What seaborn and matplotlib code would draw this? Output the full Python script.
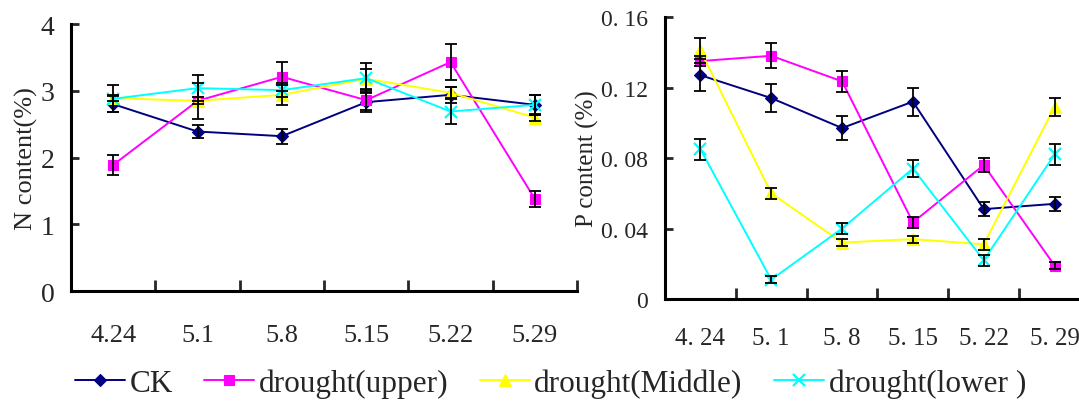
import numpy as np
import pandas as pd
import matplotlib
matplotlib.use("Agg")
import matplotlib.pyplot as plt
from matplotlib.lines import Line2D
import seaborn as sns

# sampling dates and treatments
dates = ['4.24', '5.1', '5.8', '5.15', '5.22', '5.29']
dates_p = ['4. 24', '5. 1', '5. 8', '5. 15', '5. 22', '5. 29']
groups = ['CK', 'drought(upper)', 'drought(Middle)', 'drought(lower )']

# N content (%)
n_ck = [2.80, 2.39, 2.32, 2.83, 2.94, 2.79]
n_upper = [1.89, 2.85, 3.21, 2.86, 3.43, 1.38]
n_middle = [2.89, 2.85, 2.94, 3.18, 2.97, 2.60]
n_lower = [2.88, 3.04, 3.01, 3.19, 2.69, 2.79]
n_ck_err = [0.12, 0.10, 0.11, 0.15, 0.12, 0.15]
n_upper_err = [0.15, 0.27, 0.22, 0.15, 0.27, 0.12]
n_middle_err = [0.05, 0.05, 0.15, 0.15, 0.08, 0.05]
n_lower_err = [0.20, 0.20, 0.10, 0.22, 0.18, 0.15]

# P content (%)
p_ck = [0.127, 0.114, 0.097, 0.112, 0.051, 0.054]
p_upper = [0.135, 0.138, 0.1235, 0.0435, 0.076, 0.019]
p_middle = [0.141, 0.060, 0.032, 0.034, 0.031, 0.109]
p_lower = [0.085, 0.011, 0.040, 0.074, 0.022, 0.082]
p_ck_err = [0.009, 0.008, 0.007, 0.008, 0.004, 0.004]
p_upper_err = [0.003, 0.007, 0.006, 0.003, 0.004, 0.002]
p_middle_err = [0.007, 0.003, 0.002, 0.002, 0.003, 0.005]
p_lower_err = [0.006, 0.002, 0.003, 0.005, 0.003, 0.006]

colors = {'CK': '#000080', 'drought(upper)': '#FF00FF',
          'drought(Middle)': '#FFFF00', 'drought(lower )': '#00FFFF'}
markers = {'CK': 'D', 'drought(upper)': 's',
           'drought(Middle)': '^', 'drought(lower )': 'x'}
msizes = {'CK': 6.5, 'drought(upper)': 7, 'drought(Middle)': 8.5, 'drought(lower )': 8}
mews = {'CK': 0.8, 'drought(upper)': 0.8, 'drought(Middle)': 0.8, 'drought(lower )': 1.6}

sns.set_style("ticks")
plt.rcParams['font.family'] = ['Liberation Serif', 'DejaVu Serif']


def long_table(series, errs):
    rows = []
    for g, vals, ee in zip(groups, series, errs):
        for i, (v, e) in enumerate(zip(vals, ee)):
            rows.append({'group': g, 'pos': i, 'value': v, 'err': e})
    return pd.DataFrame(rows)


df_n = long_table([n_ck, n_upper, n_middle, n_lower],
                  [n_ck_err, n_upper_err, n_middle_err, n_lower_err])
df_p = long_table([p_ck, p_upper, p_middle, p_lower],
                  [p_ck_err, p_upper_err, p_middle_err, p_lower_err])

fig = plt.figure(figsize=(10.79, 4.02), dpi=100)
ax1 = fig.add_axes([0.0658, 0.2736, 0.469, 0.664])
ax2 = fig.add_axes([0.6163, 0.2537, 0.3939, 0.7015])


def draw(ax, df):
    for g in groups:
        sub = df[df.group == g]
        sns.lineplot(data=sub, x='pos', y='value', color=colors[g], marker=markers[g],
                     markersize=msizes[g], markeredgecolor=colors[g],
                     markeredgewidth=mews[g], lw=1.4, ax=ax, zorder=2)
    for g in groups:
        sub = df[df.group == g]
        ax.errorbar(sub.pos, sub.value, yerr=sub.err, fmt='none', ecolor='black',
                    elinewidth=1.3, capsize=4, capthick=1.3, zorder=3)
    ax.set_xlim(-0.5, len(dates) - 0.5)
    ax.set_xticks(np.arange(len(dates)))
    ax.set_xticks(np.arange(len(dates)) + 0.5, minor=True)
    ax.tick_params(axis='x', which='major', length=0)
    ax.tick_params(axis='x', which='minor', direction='in', length=8, width=2)
    ax.tick_params(axis='y', direction='in', length=6, width=2, pad=12)
    ax.set_xlabel('')
    for s in ['top', 'right']:
        ax.spines[s].set_visible(False)
    for s in ['left', 'bottom']:
        ax.spines[s].set_linewidth(2.2)
        ax.spines[s].set_color('black')


draw(ax1, df_n)
ax1.set_ylim(0, 4)
ax1.set_yticks([0, 1, 2, 3, 4])
ax1.set_yticklabels(['0', '1', '2', '3', '4'], fontsize=20)
ax1.set_xticklabels(dates, fontsize=19)
ax1.tick_params(axis='x', which='major', pad=24)
ax1.set_ylabel('N content(%)', fontsize=19, labelpad=2)

draw(ax2, df_p)
ax2.set_ylim(0, 0.16)
ax2.set_yticks([0, 0.04, 0.08, 0.12, 0.16])
ax2.set_yticklabels(['0', '0. 04', '0. 08', '0. 12', '0. 16'], fontsize=17)
ax2.set_xticklabels(dates_p, fontsize=18)
ax2.tick_params(axis='x', which='major', pad=20)
ax2.set_ylabel('P content (%)', fontsize=18, labelpad=2)

handles = [Line2D([], [], color=colors[g], marker=markers[g], markersize=msizes[g],
                  markeredgecolor=colors[g], markeredgewidth=mews[g], lw=1.4)
           for g in groups]
fig.legend(handles, groups, loc='center', bbox_to_anchor=(0.51, 0.045), ncol=4,
           frameon=False, fontsize=22.5, handlelength=1.6, handletextpad=0.15,
           columnspacing=1.0, borderpad=0)

fig.savefig('out.png', dpi=100)
